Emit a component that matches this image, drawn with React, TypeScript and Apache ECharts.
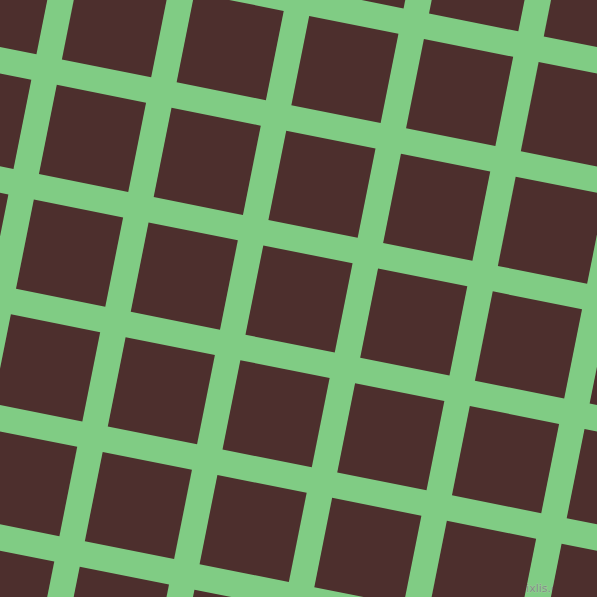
import { useEffect, useRef } from 'react';
import * as echarts from 'echarts';

// lattice indices of the tiles (columns along the tilted x direction, rows along tilted y)
const cols = [-2, -1, 0, 1, 2, 3, 4, 5, 6];
const rows = [-3, -2, -1, 0, 1, 2, 3, 4, 5];

const lineColor = '#80cc84';
const tileColor = '#4d2f2d';

export default function App() {
  const chartRef = useRef(null);

  useEffect(() => {
    document.body.style.margin = '0';
    const chartInstance = echarts.init(chartRef.current, null, { renderer: 'svg' });

    const angle = Math.atan(0.2);
    const pitch = 117;
    const side = 91;
    const ox = 92.5;
    const oy = 138.4;
    const ux = pitch * Math.cos(angle);
    const uy = pitch * Math.sin(angle);

    const tiles = cols.flatMap((i) => rows.map((j) => [i, j]));

    const option = {
      animation: false,
      backgroundColor: lineColor,
      series: [
        {
          type: 'custom',
          coordinateSystem: 'none',
          data: tiles,
          renderItem: (params: any, api: any) => {
            const i = api.value(0);
            const j = api.value(1);
            return {
              type: 'rect',
              x: ox + i * ux - j * uy,
              y: oy + i * uy + j * ux,
              rotation: -angle,
              shape: { x: -side / 2, y: -side / 2, width: side, height: side },
              style: { fill: tileColor },
            };
          },
        },
      ],
      graphic: [
        {
          type: 'text',
          right: 22,
          bottom: 3,
          style: {
            text: 'pixlis.com',
            fill: 'rgba(125,125,125,0.75)',
            stroke: 'rgba(200,200,200,0.35)',
            lineWidth: 1,
            font: '11px "DejaVu Sans"',
          },
        },
      ],
    };

    chartInstance.setOption(option);
    return () => {
      chartInstance.dispose();
    };
  }, []);

  return <div ref={chartRef} style={{ width: '597px', height: '597px' }} />;
}
